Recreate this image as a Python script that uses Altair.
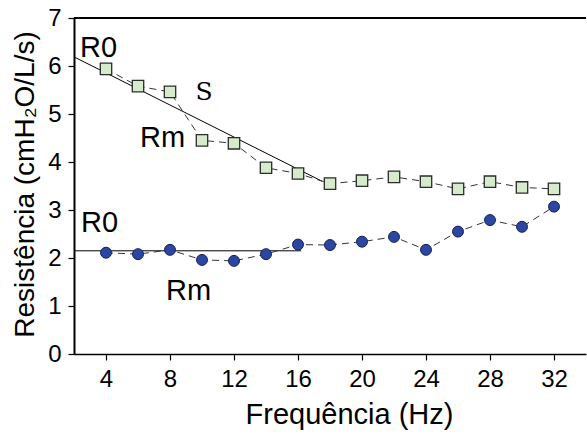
import altair as alt
import pandas as pd

freq = [4, 6, 8, 10, 12, 14, 16, 18, 20, 22, 24, 26, 28, 30, 32]
upper_vals = [5.94, 5.58, 5.46, 4.45, 4.39, 3.88, 3.76, 3.55, 3.61, 3.69, 3.59, 3.44, 3.59, 3.47, 3.44]
lower_vals = [2.11, 2.08, 2.17, 1.96, 1.94, 2.08, 2.28, 2.27, 2.34, 2.44, 2.17, 2.55, 2.79, 2.65, 3.07]

fit_upper_x = [2, 17.5]
fit_upper_y = [6.19, 3.6]
fit_lower_x = [2, 16.2]
fit_lower_y = [2.15, 2.15]

ann_text = ["R0", "Rm", "R0", "Rm"]
ann_x = [2.375, 6.125, 2.44, 7.75]
ann_y = [6.19, 4.31, 2.54, 1.125]
s_text = ["S"]
s_x = [9.6]
s_y = [5.29]

x_ticks = [4, 6, 8, 10, 12, 14, 16, 18, 20, 22, 24, 26, 28, 30, 32]
y_ticks = [0, 0.5, 1, 1.5, 2, 2.5, 3, 3.5, 4, 4.5, 5, 5.5, 6, 6.5, 7]

up = pd.DataFrame({"f": freq, "r": upper_vals})
lo = pd.DataFrame({"f": freq, "r": lower_vals})
fu = pd.DataFrame({"f": fit_upper_x, "r": fit_upper_y})
fl = pd.DataFrame({"f": fit_lower_x, "r": fit_lower_y})
ann = pd.DataFrame({"f": ann_x, "r": ann_y, "t": ann_text})
sdf = pd.DataFrame({"f": s_x, "r": s_y, "t": s_text})

FONT = "Liberation Sans"
SERIF = "DejaVu Serif"

xscale = alt.Scale(domain=[2, 34], nice=False, zero=False)
yscale = alt.Scale(domain=[0, 7], nice=False)

xax = alt.Axis(
    values=x_ticks,
    labelExpr="datum.value % 4 === 0 ? datum.label : ''",
    tickSize={"condition": {"test": "datum.value % 4 !== 0", "value": 4}, "value": 6},
    grid=False,
    labelFontSize=24,
    labelFont=FONT,
    labelColor="black",
    labelPadding=7,
    tickColor="black",
    tickWidth=1.2,
    domainColor="black",
    domainWidth=1.5,
    title="Frequência (Hz)",
    titleFont=FONT,
    titleFontSize=29,
    titleFontWeight="normal",
    titleColor="black",
    titleX=275,
    titleY=69,
    titleBaseline="alphabetic",
    titleAlign="center",
)
yax = alt.Axis(
    values=y_ticks,
    labelExpr="datum.value % 1 === 0 ? datum.label : ''",
    tickSize={"condition": {"test": "datum.value % 1 !== 0", "value": 4}, "value": 6},
    grid=False,
    labelFontSize=24,
    labelFont=FONT,
    labelColor="black",
    labelPadding=7,
    tickColor="black",
    tickWidth=1.2,
    domainColor="black",
    domainWidth=2,
    title="Resistência (cmH₂O/L/s)",
    titleFont=FONT,
    titleFontSize=28,
    titleFontWeight="normal",
    titleColor="black",
    titleX=-41,
    titleY=166,
    titleAngle=-90,
    titleBaseline="alphabetic",
    titleAlign="center",
)

X = alt.X("f:Q", scale=xscale, axis=xax)
Y = alt.Y("r:Q", scale=yscale, axis=yax)
Xn = alt.X("f:Q", scale=xscale)
Yn = alt.Y("r:Q", scale=yscale)

top_border = alt.Chart(pd.DataFrame({"v": [7]})).mark_rule(color="black", strokeWidth=2).encode(
    y=alt.Y("v:Q", scale=yscale)
)

fit_u = alt.Chart(fu).mark_line(color="black", strokeWidth=1, clip=True).encode(x=X, y=Y)
fit_l = alt.Chart(fl).mark_line(color="black", strokeWidth=1).encode(x=Xn, y=Yn)

line_u = alt.Chart(up).mark_line(color="#333333", strokeWidth=1, strokeDash=[7, 5]).encode(x=Xn, y=Yn)
line_l = alt.Chart(lo).mark_line(color="#333333", strokeWidth=1, strokeDash=[7, 5]).encode(x=Xn, y=Yn)

pts_u = alt.Chart(up).mark_point(
    shape="square", size=130, filled=True, fill="#d6ebcb", stroke="#2b2b2b", strokeWidth=1.3, opacity=1
).encode(x=Xn, y=Yn)
pts_l = alt.Chart(lo).mark_point(
    shape="circle", size=120, filled=True, fill="#2b47a3", stroke="#15204f", strokeWidth=1, opacity=1
).encode(x=Xn, y=Yn)

txt = alt.Chart(ann).mark_text(
    font=FONT, fontSize=29, align="left", baseline="alphabetic", color="black"
).encode(x=Xn, y=Yn, text="t:N")
stxt = alt.Chart(sdf).mark_text(
    font=SERIF, fontSize=25, align="left", baseline="alphabetic", color="black"
).encode(x=Xn, y=Yn, text="t:N")

chart = alt.layer(
    fit_u, top_border, fit_l, line_u, line_l, pts_u, pts_l, txt, stxt
).properties(
    width=512,
    height=336,
    autosize=alt.AutoSizeParams(type="none"),
    padding={"left": 74, "top": 18, "right": 1, "bottom": 82},
    background="white",
).configure_view(stroke=None)

chart.save("out.html", embed_options={"renderer": "svg", "actions": False})
